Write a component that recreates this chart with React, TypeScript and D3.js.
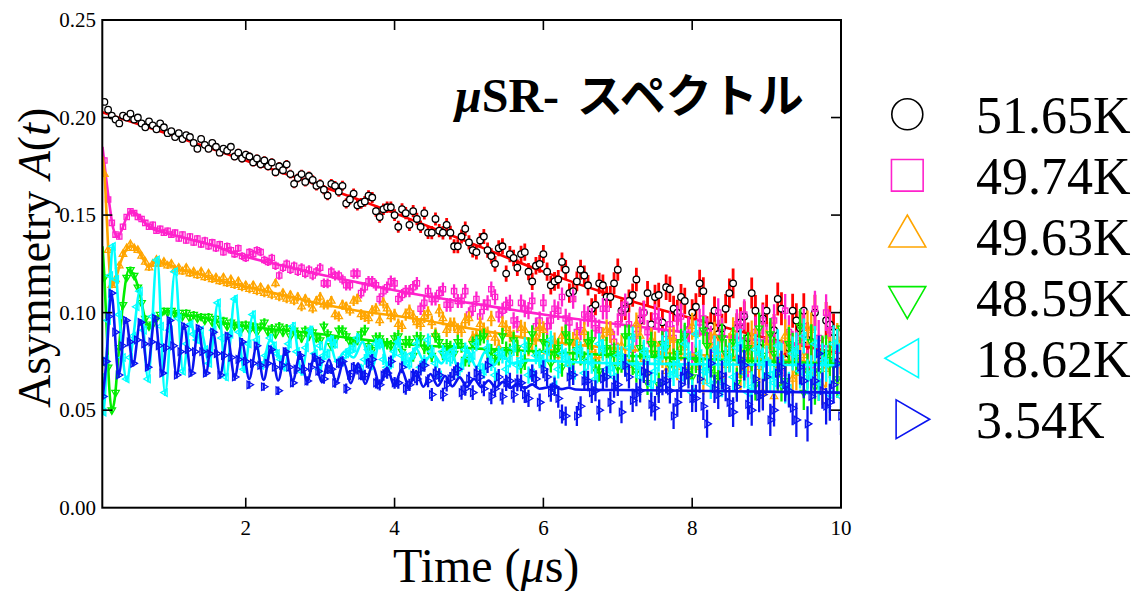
import React from "react";
import * as d3 from "d3";

const W = 1133;
const H = 591;

const xTickValues = [2, 4, 6, 8, 10];
const yTickValues = [0, 0.05, 0.1, 0.15, 0.2, 0.25];

const legendLabels = ["51.65K", "49.74K", "49.63K", "48.59K", "18.62K", "3.54K"];
const seriesColors = ["#ff0000", "#ff22cc", "#ffa500", "#00ee00", "#00ffff", "#0a14f0"];
const seriesShapes = ["circle", "square", "up", "down", "left", "right"];

const tEarly = [0.10,0.15,0.20,0.25,0.30,0.35,0.40,0.45,0.50,0.55,0.60,0.65,0.70,0.75,0.80,0.85,0.90,0.95,1.00,1.05,1.10,1.15,1.20,1.25,1.30,1.35,1.40,1.45,1.50,1.55,1.60,1.65,1.70,1.75,1.80,1.85,1.90,1.95,2.00,2.05,2.10,2.15,2.20,2.25,2.30,2.35,2.40,2.45,2.50,2.55,2.60,2.65,2.70,2.75,2.80,2.85,2.90,2.95];
const tLate = [3.0,3.1,3.2,3.3,3.4,3.5,3.6,3.7,3.8,3.9,4.0,4.1,4.2,4.3,4.4,4.5,4.6,4.7,4.8,4.9,5.0,5.1,5.2,5.3,5.4,5.5,5.6,5.7,5.8,5.9,6.0,6.1,6.2,6.3,6.4,6.5,6.6,6.7,6.8,6.9,7.0,7.1,7.2,7.3,7.4,7.5,7.6,7.7,7.8,7.9,8.0,8.1,8.2,8.3,8.4,8.5,8.6,8.7,8.8,8.9,9.0,9.1,9.2,9.3,9.4,9.5,9.6,9.7,9.8,9.9,10.0];
const tLate2 = [3.05,3.15,3.25,3.35,3.45,3.55,3.65,3.75,3.85,3.95,4.05,4.15,4.25,4.35,4.45,4.55,4.65,4.75,4.85,4.95,5.05,5.15,5.25,5.35,5.45,5.55,5.65,5.75,5.85,5.95,6.05,6.15,6.25,6.35,6.45,6.55,6.65,6.75,6.85,6.95,7.05,7.15,7.25,7.35,7.45,7.55,7.65,7.75,7.85,7.95,8.05,8.15,8.25,8.35,8.45,8.55,8.65,8.75,8.85,8.95,9.05,9.15,9.25,9.35,9.45,9.55,9.65,9.75,9.85,9.95];

// error bar half-size versus time
const errTime = [0, 1, 2, 3, 4, 5, 6, 7, 8, 9, 10];
const errSize = [0.0015, 0.0017, 0.002, 0.0024, 0.003, 0.0037, 0.0046, 0.0057, 0.0069, 0.0082, 0.0097];

// 51.65K
const redEarly = [0.208,0.204,0.201,0.199,0.197,0.201,0.200,0.202,0.199,0.200,0.197,0.195,0.198,0.196,0.194,0.197,0.195,0.192,0.193,0.190,0.192,0.189,0.191,0.190,0.187,0.184,0.189,0.186,0.184,0.187,0.185,0.182,0.184,0.183,0.185,0.180,0.182,0.179,0.181,0.180,0.177,0.179,0.176,0.178,0.175,0.177,0.172,0.175,0.173,0.176,0.171,0.166,0.169,0.171,0.167,0.170,0.168,0.165];
const redLate = [0.166,0.160,0.165,0.165,0.158,0.155,0.157,0.159,0.149,0.154,0.150,0.153,0.145,0.148,0.151,0.141,0.142,0.145,0.134,0.139,0.136,0.131,0.139,0.129,0.133,0.120,0.128,0.130,0.121,0.124,0.130,0.114,0.117,0.122,0.111,0.122,0.114,0.104,0.114,0.108,0.122,0.102,0.109,0.096,0.110,0.108,0.095,0.112,0.100,0.106,0.100,0.115,0.091,0.101,0.092,0.110,0.092,0.098,0.110,0.082,0.101,0.091,0.102,0.082,0.096,0.101,0.085,0.076,0.096,0.090,0.078];
const redLate2 = [0.163,0.166,0.162,0.156,0.161,0.156,0.160,0.152,0.153,0.154,0.144,0.151,0.152,0.144,0.141,0.148,0.141,0.141,0.134,0.143,0.132,0.137,0.132,0.125,0.134,0.130,0.123,0.131,0.116,0.125,0.121,0.116,0.126,0.110,0.116,0.119,0.102,0.115,0.108,0.115,0.101,0.106,0.117,0.100,0.094,0.109,0.113,0.102,0.108,0.091,0.103,0.111,0.093,0.089,0.102,0.115,0.095,0.087,0.101,0.097,0.087,0.107,0.076,0.101,0.092,0.086,0.100,0.078,0.094,0.084];
const redFit = [[0.072,0.2027],[1,0.191],[2,0.178],[3,0.165],[4,0.151],[5,0.136],[6,0.121],[7,0.108],[8,0.097],[9,0.087],[10,0.079]];

// 49.74K
const pinkEarly = [0.178,0.158,0.146,0.140,0.139,0.144,0.149,0.152,0.151,0.149,0.148,0.146,0.144,0.145,0.142,0.143,0.141,0.142,0.140,0.141,0.138,0.140,0.137,0.139,0.136,0.138,0.135,0.137,0.134,0.136,0.133,0.135,0.131,0.134,0.132,0.130,0.133,0.129,0.128,0.131,0.130,0.132,0.131,0.127,0.126,0.128,0.124,0.119,0.123,0.125,0.122,0.124,0.121,0.123,0.120,0.122,0.119,0.121];
const pinkLate = [0.123,0.115,0.119,0.117,0.114,0.120,0.113,0.116,0.107,0.113,0.115,0.109,0.111,0.115,0.105,0.107,0.110,0.104,0.111,0.106,0.099,0.107,0.103,0.112,0.099,0.104,0.096,0.105,0.101,0.093,0.105,0.096,0.101,0.097,0.107,0.091,0.098,0.092,0.102,0.090,0.094,0.104,0.081,0.097,0.090,0.098,0.084,0.094,0.097,0.087,0.078,0.095,0.090,0.081,0.090,0.077,0.094,0.099,0.083,0.078,0.086,0.096,0.069,0.090,0.082,0.093,0.073,0.087,0.100,0.075,0.081];
const pinkLate2 = [0.115,0.121,0.119,0.114,0.120,0.110,0.116,0.114,0.111,0.116,0.107,0.111,0.113,0.102,0.111,0.107,0.112,0.104,0.106,0.111,0.102,0.098,0.105,0.108,0.101,0.105,0.094,0.102,0.106,0.096,0.093,0.102,0.108,0.095,0.090,0.099,0.097,0.091,0.102,0.085,0.100,0.094,0.089,0.100,0.084,0.096,0.089,0.087,0.098,0.091,0.077,0.097,0.086,0.100,0.079,0.087,0.093,0.071,0.090,0.096,0.081,0.076,0.101,0.082,0.087,0.072,0.102,0.076,0.091,0.081];
const pinkFit = [[0.075,0.185],[0.12,0.170],[0.17,0.155],[0.22,0.143],[0.28,0.139],[0.34,0.143],[0.40,0.149],[0.45,0.152],[0.52,0.151],[0.6,0.148],[0.7,0.144],[0.9,0.141],[1.1,0.139],[1.36,0.1364],[1.5,0.135],[2.0,0.1287],[2.5,0.124],[3.0,0.1195],[3.5,0.1155],[4.0,0.1115],[5.0,0.105],[6.0,0.099],[7.0,0.094],[8.0,0.0895],[9.0,0.0855],[10.0,0.082]];

// 49.63K
const orangeEarly = [0.171,0.132,0.114,0.117,0.124,0.130,0.133,0.135,0.133,0.132,0.129,0.126,0.123,0.125,0.127,0.125,0.126,0.124,0.125,0.122,0.123,0.121,0.123,0.120,0.121,0.119,0.121,0.118,0.120,0.117,0.118,0.116,0.118,0.115,0.117,0.114,0.116,0.113,0.114,0.112,0.114,0.111,0.113,0.110,0.112,0.109,0.115,0.108,0.110,0.107,0.109,0.106,0.108,0.103,0.107,0.105,0.102,0.106];
const orangeLate = [0.108,0.104,0.099,0.104,0.101,0.107,0.098,0.101,0.096,0.102,0.099,0.093,0.101,0.095,0.098,0.095,0.101,0.091,0.094,0.091,0.097,0.088,0.091,0.097,0.082,0.092,0.087,0.092,0.082,0.088,0.091,0.082,0.078,0.088,0.085,0.079,0.085,0.076,0.087,0.090,0.079,0.075,0.082,0.088,0.069,0.084,0.078,0.086,0.072,0.082,0.093,0.072,0.077,0.088,0.066,0.082,0.077,0.070,0.088,0.072,0.083,0.057,0.078,0.085,0.069,0.078,0.091,0.064,0.071,0.082,0.065];
const orangeLate2 = [0.104,0.106,0.098,0.103,0.106,0.099,0.097,0.102,0.105,0.098,0.094,0.099,0.098,0.094,0.100,0.089,0.097,0.094,0.091,0.096,0.087,0.094,0.089,0.087,0.094,0.089,0.081,0.091,0.085,0.092,0.080,0.085,0.088,0.074,0.086,0.090,0.081,0.078,0.091,0.081,0.083,0.073,0.094,0.076,0.086,0.079,0.070,0.086,0.082,0.073,0.089,0.065,0.083,0.079,0.073,0.090,0.068,0.078,0.084,0.059,0.083,0.073,0.088,0.066,0.075,0.092,0.069,0.062,0.078,0.085];
const orangeFit = [[0.075,0.180],[0.1,0.172],[0.13,0.150],[0.16,0.127],[0.2,0.1135],[0.25,0.117],[0.32,0.126],[0.4,0.1325],[0.46,0.134],[0.53,0.133],[0.6,0.129],[0.69,0.1235],[0.8,0.126],[0.91,0.1253],[1.13,0.1219],[1.36,0.120],[1.5,0.118],[2.0,0.1133],[2.5,0.109],[3.0,0.1045],[3.5,0.101],[4.0,0.0985],[5.0,0.092],[6.0,0.0855],[7.0,0.0815],[8.0,0.0785],[9.0,0.076],[10.0,0.074]];

// 48.59K
const greenEarly = [0.118,0.072,0.050,0.059,0.082,0.104,0.118,0.122,0.119,0.113,0.105,0.097,0.093,0.094,0.097,0.099,0.101,0.100,0.101,0.099,0.100,0.098,0.100,0.097,0.099,0.097,0.098,0.096,0.098,0.095,0.097,0.094,0.096,0.093,0.095,0.093,0.094,0.092,0.094,0.091,0.093,0.090,0.093,0.095,0.090,0.092,0.089,0.093,0.090,0.092,0.088,0.091,0.089,0.087,0.091,0.088,0.090,0.087];
const greenLate = [0.086,0.089,0.086,0.091,0.085,0.086,0.091,0.081,0.087,0.084,0.087,0.080,0.085,0.087,0.082,0.078,0.085,0.083,0.079,0.083,0.076,0.085,0.088,0.080,0.077,0.081,0.086,0.073,0.083,0.079,0.085,0.074,0.082,0.089,0.075,0.078,0.085,0.071,0.081,0.078,0.072,0.088,0.074,0.082,0.064,0.079,0.084,0.073,0.079,0.088,0.067,0.074,0.083,0.068,0.087,0.077,0.064,0.081,0.074,0.092,0.068,0.079,0.063,0.084,0.077,0.059,0.085,0.070,0.079,0.073,0.092];
const greenLate2 = [0.093,0.083,0.091,0.088,0.085,0.089,0.083,0.087,0.084,0.083,0.088,0.085,0.078,0.087,0.082,0.088,0.079,0.082,0.085,0.076,0.084,0.087,0.080,0.077,0.088,0.080,0.082,0.075,0.089,0.077,0.084,0.079,0.072,0.085,0.081,0.075,0.086,0.070,0.082,0.079,0.075,0.088,0.070,0.079,0.084,0.063,0.082,0.075,0.085,0.070,0.076,0.091,0.071,0.065,0.079,0.085,0.074,0.082,0.063,0.078,0.089,0.068,0.065,0.081,0.093,0.070,0.062,0.079,0.076,0.066];
const greenFit = [[0.075,0.134],[0.1,0.118],[0.13,0.092],[0.165,0.062],[0.2,0.050],[0.24,0.056],[0.28,0.074],[0.35,0.105],[0.43,0.122],[0.51,0.118],[0.575,0.110],[0.64,0.098],[0.71,0.093],[0.8,0.097],[0.95,0.1005],[1.13,0.099],[1.36,0.098],[1.72,0.0945],[2.0,0.093],[2.5,0.091],[3.0,0.089],[3.5,0.0865],[4.0,0.0843],[5.0,0.0818],[6.0,0.080],[7.0,0.078],[8.0,0.0765],[9.0,0.075],[10.0,0.0738]];

// 18.62K
const cyanEarly = [[0.075,0.067],[0.09,0.049],[0.12,0.076],[0.15,0.096],[0.18,0.119],[0.216,0.134],[0.26,0.117],[0.30,0.099],[0.35,0.077],[0.40,0.066],[0.445,0.077],[0.49,0.088],[0.535,0.103],[0.579,0.111],[0.633,0.091],[0.687,0.066],[0.747,0.098],[0.808,0.127],[0.862,0.093],[0.915,0.059],[0.982,0.091],[1.05,0.121],[1.10,0.097],[1.157,0.070],[1.21,0.084],[1.26,0.094],[1.30,0.089],[1.35,0.086],[1.40,0.091],[1.455,0.081],[1.51,0.074],[1.57,0.091],[1.628,0.105],[1.68,0.087],[1.735,0.067],[1.795,0.089],[1.856,0.107],[1.917,0.090],[1.978,0.071],[2.04,0.084],[2.098,0.099],[2.155,0.086],[2.21,0.073],[2.27,0.078],[2.33,0.087],[2.38,0.083],[2.42,0.079],[2.47,0.076],[2.52,0.072],[2.58,0.084],[2.636,0.093],[2.69,0.080],[2.75,0.070],[2.81,0.082],[2.87,0.091],[2.93,0.079],[2.99,0.071]];
const cyanLate = [0.083,0.079,0.084,0.075,0.081,0.087,0.076,0.078,0.084,0.072,0.080,0.078,0.074,0.084,0.075,0.080,0.068,0.077,0.081,0.073,0.077,0.084,0.070,0.074,0.079,0.071,0.082,0.076,0.068,0.078,0.074,0.086,0.071,0.077,0.068,0.080,0.076,0.066,0.081,0.072,0.078,0.073,0.087,0.067,0.076,0.070,0.082,0.068,0.074,0.084,0.059,0.079,0.071,0.081,0.064,0.077,0.082,0.069,0.062,0.079,0.075,0.064,0.076,0.061,0.081,0.088,0.069,0.064,0.074,0.084,0.057];
const cyanLate2 = [0.078,0.086,0.075,0.079,0.082,0.071,0.081,0.084,0.076,0.074,0.085,0.077,0.079,0.072,0.086,0.074,0.080,0.076,0.070,0.081,0.078,0.072,0.082,0.068,0.078,0.076,0.073,0.083,0.069,0.076,0.080,0.063,0.079,0.073,0.081,0.069,0.074,0.084,0.071,0.067,0.077,0.082,0.073,0.080,0.063,0.076,0.084,0.069,0.067,0.078,0.089,0.070,0.063,0.078,0.075,0.067,0.084,0.059,0.081,0.074,0.068,0.083,0.062,0.079,0.070,0.067,0.084,0.075,0.058,0.082];
const cyanFit = [[0.075,0.067],[0.09,0.050],[0.15,0.095],[0.216,0.135],[0.30,0.098],[0.40,0.0655],[0.49,0.088],[0.579,0.1115],[0.687,0.066],[0.808,0.128],[0.915,0.0588],[1.05,0.121],[1.157,0.070],[1.26,0.095],[1.33,0.086],[1.40,0.090],[1.51,0.074],[1.628,0.105],[1.735,0.067],[1.856,0.108],[1.978,0.070],[2.098,0.099],[2.21,0.072],[2.33,0.086],[2.42,0.080],[2.52,0.072],[2.636,0.093],[2.75,0.070],[2.87,0.091],[2.99,0.071],[3.11,0.087],[3.22,0.075],[3.33,0.080],[3.45,0.077],[3.57,0.085],[3.69,0.071],[3.81,0.086],[3.92,0.071],[4.04,0.085],[4.16,0.072],[4.28,0.082],[4.40,0.075],[4.51,0.079],[4.63,0.074],[4.75,0.081],[4.86,0.071],[4.98,0.081],[5.10,0.072],[5.22,0.080],[5.33,0.073],[5.45,0.078],[5.57,0.074],[5.8,0.0755],[6.5,0.0745],[8,0.0735],[10,0.073]];

// 3.54K
const blueEarly = [[0.08,0.057],[0.12,0.075],[0.155,0.098],[0.194,0.110],[0.243,0.090],[0.2915,0.068],[0.340,0.083],[0.389,0.096],[0.438,0.085],[0.4865,0.074],[0.535,0.086],[0.584,0.095],[0.633,0.084],[0.6815,0.072],[0.730,0.085],[0.779,0.097],[0.828,0.083],[0.8765,0.069],[0.925,0.082],[0.974,0.096],[1.023,0.083],[1.0715,0.068],[1.120,0.080],[1.169,0.093],[1.218,0.081],[1.2665,0.069],[1.315,0.080],[1.364,0.092],[1.413,0.080],[1.4615,0.069],[1.510,0.079],[1.559,0.090],[1.608,0.079],[1.6565,0.068],[1.705,0.078],[1.754,0.088],[1.803,0.077],[1.8515,0.067],[1.900,0.076],[1.949,0.085],[1.998,0.075],[2.0465,0.063],[2.095,0.074],[2.144,0.083],[2.193,0.073],[2.2415,0.062],[2.290,0.074],[2.339,0.081],[2.388,0.072],[2.4365,0.060],[2.485,0.073],[2.534,0.080],[2.583,0.072],[2.6315,0.064],[2.680,0.071],[2.729,0.078],[2.778,0.071],[2.8265,0.065],[2.875,0.072],[2.924,0.077],[2.973,0.070]];
const blueLate = [0.075,0.071,0.064,0.075,0.068,0.071,0.068,0.076,0.063,0.069,0.064,0.072,0.063,0.066,0.073,0.058,0.068,0.063,0.069,0.059,0.066,0.069,0.061,0.057,0.067,0.064,0.058,0.064,0.056,0.066,0.071,0.059,0.056,0.047,0.068,0.052,0.065,0.060,0.066,0.054,0.063,0.073,0.055,0.060,0.069,0.051,0.064,0.060,0.054,0.070,0.056,0.066,0.043,0.061,0.068,0.054,0.062,0.073,0.050,0.057,0.067,0.050,0.072,0.060,0.045,0.065,0.057,0.079,0.052,0.063,0.047];
const blueLate2 = [0.066,0.071,0.074,0.061,0.072,0.068,0.074,0.064,0.068,0.075,0.064,0.061,0.068,0.071,0.065,0.069,0.058,0.066,0.071,0.061,0.059,0.067,0.073,0.061,0.057,0.065,0.064,0.058,0.069,0.054,0.067,0.062,0.048,0.067,0.047,0.065,0.059,0.050,0.067,0.062,0.049,0.067,0.058,0.070,0.053,0.060,0.065,0.047,0.063,0.068,0.056,0.052,0.074,0.058,0.062,0.049,0.076,0.053,0.066,0.058,0.045,0.069,0.063,0.051,0.072,0.043,0.065,0.060,0.054,0.074];
const blueFit = [[0.075,0.056],[0.12,0.072],[0.194,0.110],[0.2915,0.068],[0.389,0.0965],[0.4865,0.0735],[0.584,0.096],[0.6815,0.0715],[0.779,0.0975],[0.8765,0.0685],[0.974,0.0965],[1.0715,0.068],[1.169,0.0935],[1.2665,0.069],[1.364,0.092],[1.4615,0.0685],[1.559,0.090],[1.6565,0.068],[1.754,0.0875],[1.8515,0.067],[1.949,0.085],[2.0465,0.066],[2.144,0.0825],[2.2415,0.0655],[2.339,0.0815],[2.4365,0.0652],[2.534,0.0805],[2.6315,0.065],[2.729,0.0785],[2.8265,0.0648],[2.924,0.0772],[3.0215,0.0645],[3.119,0.076],[3.2165,0.0642],[3.314,0.0748],[3.4115,0.0638],[3.509,0.074],[3.6065,0.0635],[3.704,0.073],[3.8015,0.063],[3.899,0.0718],[3.9965,0.0625],[4.094,0.0708],[4.1915,0.0622],[4.289,0.070],[4.3865,0.062],[4.484,0.0685],[4.5815,0.0625],[4.679,0.0675],[4.7765,0.0622],[4.874,0.0668],[4.9715,0.062],[5.069,0.066],[5.1665,0.0618],[5.264,0.0652],[5.3615,0.0616],[5.459,0.0645],[5.5565,0.0614],[5.654,0.0638],[5.7515,0.0612],[5.849,0.0632],[5.9465,0.061],[6.144,0.0622],[6.2415,0.0608],[6.339,0.0615],[6.4365,0.0606],[6.7,0.0604],[7.0,0.0603],[8.5,0.0597],[10.0,0.059]];

type Pt = [number, number];

const series = [
  { early: d3.zip(tEarly, redEarly) as Pt[], late: redLate, late2: redLate2, fit: redFit as Pt[] },
  { early: d3.zip(tEarly, pinkEarly) as Pt[], late: pinkLate, late2: pinkLate2, fit: pinkFit as Pt[] },
  { early: d3.zip(tEarly, orangeEarly) as Pt[], late: orangeLate, late2: orangeLate2, fit: orangeFit as Pt[] },
  { early: d3.zip(tEarly, greenEarly) as Pt[], late: greenLate, late2: greenLate2, fit: greenFit as Pt[] },
  { early: cyanEarly as Pt[], late: cyanLate, late2: cyanLate2, fit: cyanFit as Pt[] },
  { early: blueEarly as Pt[], late: blueLate, late2: blueLate2, fit: blueFit as Pt[] },
];

const SERIF = "'Liberation Serif', 'Times New Roman', serif";

function Marker({ shape, color, cx, cy, size, sw, legend }: any) {
  if (shape === "circle") {
    return (
      <circle cx={cx} cy={cy} r={Math.sqrt(size / Math.PI)}
        fill={legend ? "none" : "#fff"} stroke="#000" strokeWidth={sw} />
    );
  }
  const rot = ({ square: 0, up: 0, down: 180, left: -90, right: 90 } as any)[shape] as number;
  const type = shape === "square" ? d3.symbolSquare : d3.symbolTriangle;
  const p = d3.symbol(type, size)() as string;
  return (
    <path d={p} transform={`translate(${cx},${cy}) rotate(${rot})`}
      fill="none" stroke={color} strokeWidth={sw} />
  );
}

export default function App() {
  const x = d3.scaleLinear().domain([0.072, 10]).range([102.3, 841]);
  const y = d3.scaleLinear().domain([0, 0.25]).range([507.7, 20]);
  const err = d3.scaleLinear().domain(errTime).range(errSize);
  const line = d3.line<Pt>().x((d) => x(d[0])).y((d) => y(d[1])).curve(d3.curveMonotoneX);

  const x0 = x.range()[0], x1 = x.range()[1];
  const y0 = y.range()[0], y1 = y.range()[1];

  return (
    <svg width={W} height={H} viewBox={`0 0 ${W} ${H}`}
      style={{ position: "absolute", left: 0, top: 0, background: "#fff" }}>
      <defs>
        <clipPath id="plotClip">
          <rect x={x0} y={y1} width={x1 - x0} height={y0 - y1} />
        </clipPath>
      </defs>
      <rect x={0} y={0} width={W} height={H} fill="#fff" />

      <g clipPath="url(#plotClip)">
        {series.map((s, si) => {
          const pts: Pt[] = [
            ...s.early,
            ...(d3.zip(tLate, s.late) as Pt[]),
            ...(d3.zip(tLate2, s.late2) as Pt[]),
          ].sort((a, b) => a[0] - b[0]);
          const color = seriesColors[si];
          const shape = seriesShapes[si];
          return (
            <g key={si}>
              <g stroke={color} strokeWidth={si === 0 ? 2.8 : 2.3}>
                {pts.map((d, i) => {
                  const e = err(d[0]);
                  return <line key={i} x1={x(d[0])} x2={x(d[0])} y1={y(d[1] - e)} y2={y(d[1] + e)} />;
                })}
              </g>
              <path d={line(s.fit) as string} fill="none" stroke={color} strokeWidth={2.6} />
              <g>
                {pts.map((d, i) => (
                  <Marker key={i} shape={shape} color={color} cx={x(d[0])} cy={y(d[1])}
                    size={shape === "circle" ? 34 : shape === "square" ? 28 : 24} sw={1.3} />
                ))}
              </g>
            </g>
          );
        })}
      </g>

      {/* frame */}
      <rect x={x0} y={y1} width={x1 - x0} height={y0 - y1} fill="none" stroke="#000" strokeWidth={2} />
      {/* ticks */}
      <g stroke="#000" strokeWidth={1.6}>
        {xTickValues.filter((t) => t < 10).map((t) => (
          <g key={t}>
            <line x1={x(t)} x2={x(t)} y1={y0} y2={y0 - 10} />
            <line x1={x(t)} x2={x(t)} y1={y1} y2={y1 + 10} />
          </g>
        ))}
        {yTickValues.filter((v) => v > 0 && v < 0.25).map((v) => (
          <g key={v}>
            <line x1={x0} x2={x0 + 10} y1={y(v)} y2={y(v)} />
            <line x1={x1} x2={x1 - 10} y1={y(v)} y2={y(v)} />
          </g>
        ))}
      </g>
      <g fontFamily={SERIF} fontSize={21} fill="#000">
        {xTickValues.map((t) => (
          <text key={t} x={x(t)} y={535} textAnchor="middle">{t}</text>
        ))}
        {yTickValues.map((v) => (
          <text key={v} x={96} y={y(v) + 7} textAnchor="end">{d3.format(".2f")(v)}</text>
        ))}
      </g>

      {/* axis titles */}
      <text x={393} y={582} fontFamily={SERIF} fontSize={48} fill="#000">
        Time (<tspan fontStyle="italic">μ</tspan>s)
      </text>
      <text transform="translate(50,408) rotate(-90)" fontFamily={SERIF} fontSize={46} fill="#000">
        Asymmetry <tspan fontStyle="italic">A</tspan>(<tspan fontStyle="italic">t</tspan>)
      </text>

      {/* title */}
      <text y={112} fill="#000" fontWeight="bold">
        <tspan x={455} fontFamily={SERIF} fontStyle="italic" fontSize={48}>μ</tspan>
        <tspan fontFamily={SERIF} fontSize={48}>SR-</tspan>
        <tspan x={577} fontFamily="'Noto Sans CJK JP', sans-serif" fontSize={46}>スペクトル</tspan>
      </text>

      {/* legend */}
      {legendLabels.map((lab, i) => {
        const cy = 114.3 + i * 61;
        const shape = seriesShapes[i];
        const size = shape === "circle" ? 755 : shape === "square" ? 1005 : (shape === "left" || shape === "right") ? 650 : 590;
        return (
          <g key={lab}>
            <Marker shape={shape} color={seriesColors[i]} cx={907.3} cy={cy} size={size} sw={1.6} legend />
            <text x={976} y={cy + 18.4} fontFamily={SERIF} fontSize={52} fill="#000">{lab}</text>
          </g>
        );
      })}
    </svg>
  );
}
